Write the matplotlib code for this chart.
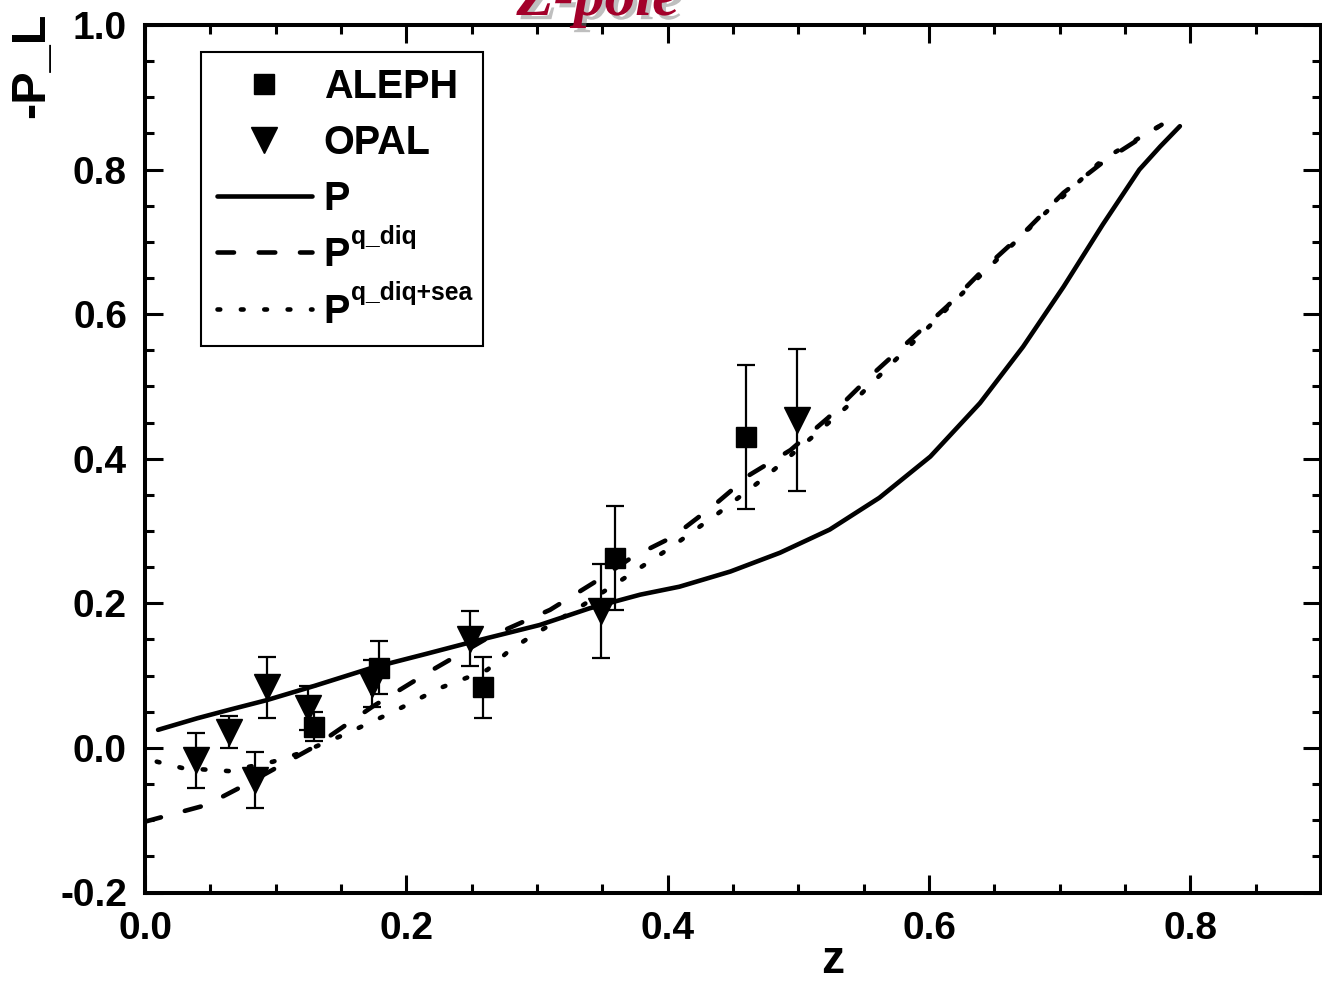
import matplotlib
matplotlib.use('Agg')
import matplotlib.pyplot as plt
import matplotlib.patheffects as pe
from matplotlib.ticker import MultipleLocator

# ---- data ----
aleph_z = [0.129, 0.179, 0.259, 0.360, 0.460]
aleph_p = [0.029, 0.111, 0.084, 0.263, 0.430]
aleph_err = [0.020, 0.037, 0.042, 0.072, 0.099]

opal_z = [0.039, 0.064, 0.084, 0.093, 0.125, 0.174, 0.249, 0.349, 0.499]
opal_p = [-0.017, 0.022, -0.044, 0.084, 0.055, 0.089, 0.151, 0.190, 0.454]
opal_err = [0.038, 0.022, 0.039, 0.042, 0.030, 0.032, 0.038, 0.065, 0.098]

p_z = [0.010, 0.040, 0.065, 0.093, 0.130, 0.174, 0.215, 0.251, 0.302, 0.340,
       0.379, 0.409, 0.448, 0.486, 0.524, 0.562, 0.601, 0.639, 0.672, 0.703,
       0.733, 0.761, 0.777, 0.792]
p_v = [0.025, 0.041, 0.053, 0.066, 0.086, 0.111, 0.130, 0.147, 0.170, 0.193,
       0.212, 0.223, 0.244, 0.270, 0.302, 0.346, 0.403, 0.477, 0.555, 0.638,
       0.724, 0.800, 0.832, 0.860]

diq_z = [0.000, 0.047, 0.080, 0.129, 0.174, 0.220, 0.264, 0.310, 0.343, 0.373,
         0.404, 0.435, 0.463, 0.494, 0.523, 0.555, 0.583, 0.614, 0.644, 0.675,
         0.703, 0.733, 0.764, 0.778]
diq_v = [-0.102, -0.079, -0.048, 0.001, 0.057, 0.108, 0.154, 0.191, 0.228, 0.264,
         0.292, 0.335, 0.378, 0.412, 0.457, 0.514, 0.560, 0.611, 0.666, 0.717,
         0.768, 0.810, 0.846, 0.862]

sea_z = [0.009, 0.029, 0.064, 0.098, 0.119, 0.152, 0.190, 0.226, 0.262, 0.279,
         0.297, 0.333, 0.367, 0.403, 0.439, 0.475, 0.510, 0.546, 0.599, 0.634,
         0.689, 0.733, 0.778]
sea_v = [-0.019, -0.028, -0.032, -0.019, -0.007, 0.018, 0.050, 0.083, 0.108, 0.135,
         0.156, 0.195, 0.235, 0.278, 0.325, 0.375, 0.429, 0.486, 0.581, 0.644,
         0.740, 0.814, 0.862]

legend_labels = ['ALEPH', 'OPAL', 'P', 'P', 'P']
superscripts = [None, None, None, 'q_diq', 'q_diq+sea']
xticks = [0.0, 0.2, 0.4, 0.6, 0.8]
yticks = [-0.2, 0.0, 0.2, 0.4, 0.6, 0.8, 1.0]

plt.rcParams['font.family'] = ['Liberation Sans', 'DejaVu Sans']
plt.rcParams['font.weight'] = 'bold'

fig = plt.figure(figsize=(13.22, 9.81), dpi=100)
ax = fig.add_axes([145/1322, 1-892.5/981, (1321-145)/1322, (892.5-25)/981])

lw = 3.3
h_p, = ax.plot(p_z, p_v, color='black', lw=lw, solid_capstyle='round',
               solid_joinstyle='round', zorder=3)
h_d, = ax.plot(diq_z, diq_v, color='black', lw=lw, linestyle=(0, (3.6, 5.4)),
               dash_capstyle='round', zorder=3)
h_s, = ax.plot(sea_z, sea_v, color='black', lw=lw, linestyle=(0, (0.6, 4.5)),
               dash_capstyle='round', zorder=3)

ax.errorbar(aleph_z, aleph_p, yerr=aleph_err, fmt='none', ecolor='black',
            elinewidth=1.6, capsize=6.5, capthick=1.6, zorder=4)
ax.errorbar(opal_z, opal_p, yerr=opal_err, fmt='none', ecolor='black',
            elinewidth=1.6, capsize=6.5, capthick=1.6, zorder=4)
h_a, = ax.plot(aleph_z, aleph_p, 's', color='black', ms=14, ls='none', zorder=5)
h_o, = ax.plot(opal_z, opal_p, 'v', color='black', ms=18.5, ls='none', zorder=5)

ax.set_xlim(0.0, 0.9)
ax.set_ylim(-0.2, 1.0)
ax.set_xticks(xticks)
ax.set_yticks(yticks)
ax.set_xticklabels([f'{t:.1f}' for t in xticks])
ax.set_yticklabels([f'{t:.1f}' for t in yticks])
ax.xaxis.set_minor_locator(MultipleLocator(0.05))
ax.yaxis.set_minor_locator(MultipleLocator(0.05))
ax.tick_params(which='both', direction='in', top=True, right=True, width=2.2)
ax.tick_params(which='major', length=13, labelsize=28, pad=13)
ax.tick_params(which='minor', length=6.5)
for lab in ax.get_xticklabels() + ax.get_yticklabels():
    lab.set_fontweight('bold')
for s in ax.spines.values():
    s.set_linewidth(2.9)

leg = ax.legend([h_a, h_o, h_p, h_d, h_s], legend_labels,
                loc='upper left', bbox_to_anchor=(0.0476, 0.969), borderaxespad=0,
                fontsize=28.5, frameon=True, fancybox=False, edgecolor='black',
                framealpha=1, handlelength=2.4, handletextpad=0.3, labelspacing=0.46,
                borderpad=0.4)
frame = leg.get_frame()
frame.set_linewidth(1.5)

# widen the legend frame so that it also encloses the superscripts
_orig_set_bounds = frame.set_bounds
def _wide_bounds(*args):
    x, y, w, h = args[0] if len(args) == 1 else args
    _orig_set_bounds(x, y, w + 9, h)
frame.set_bounds = _wide_bounds

for t, sup in zip(leg.get_texts(), superscripts):
    t.set_fontweight('bold')
    if sup:
        ax.annotate(sup, xy=(1.0, 0.80), xycoords=t, xytext=(1, 0),
                    textcoords='offset points', ha='left', va='baseline',
                    fontsize=17.7, fontweight='bold', zorder=10)

fig.text(32/1322, 1-65/981, '-P_L', rotation=90, ha='center', va='center',
         fontsize=35, fontweight='bold')
fig.text(833/1322, 1-973/981, 'z', ha='center', va='baseline',
         fontsize=33, fontweight='bold')

fig.text(598/1322, 1-15/981, 'Z-pole', ha='center', va='baseline', fontsize=44,
         family='Liberation Serif', style='italic', fontweight='bold', color='#a3002a',
         path_effects=[pe.withSimplePatchShadow(offset=(3, -3), shadow_rgbFace='gray', alpha=0.5)])

fig.savefig('out.png', dpi=100)
